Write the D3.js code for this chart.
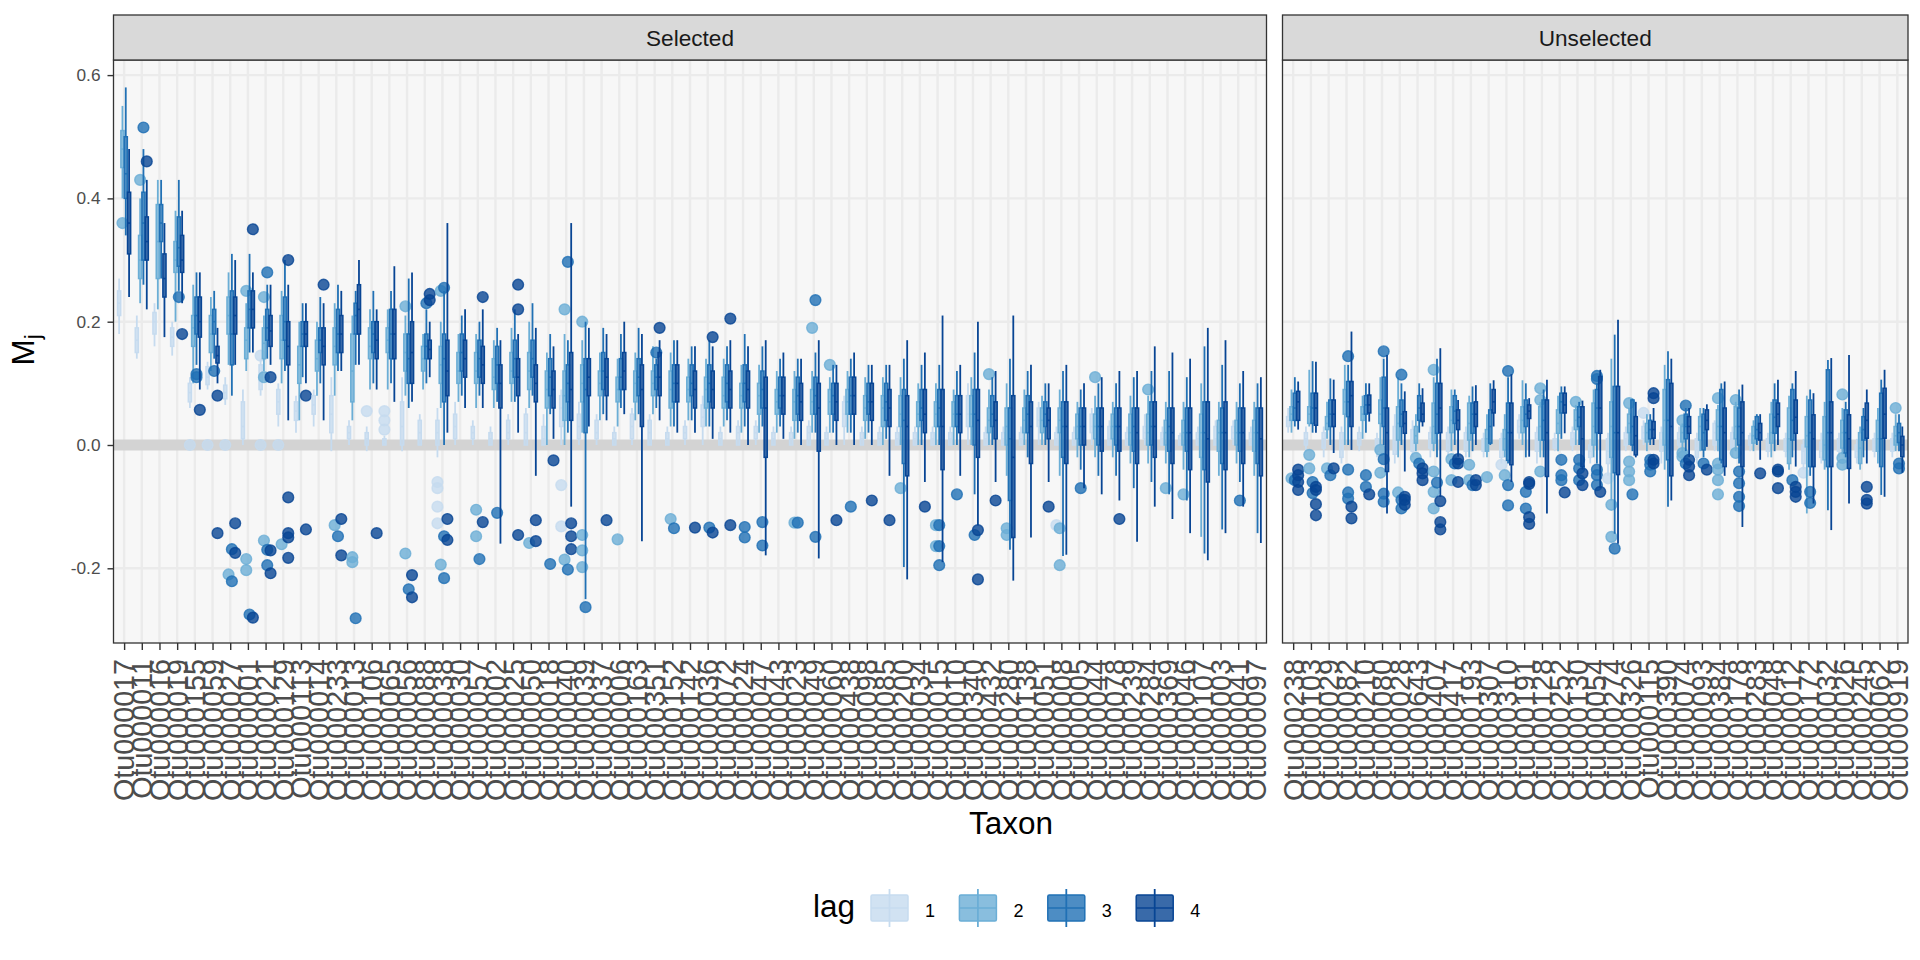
<!DOCTYPE html>
<html><head><meta charset="utf-8">
<script src="https://cdn.jsdelivr.net/npm/d3@7"></script>
<style>body{margin:0;background:#fff}svg{display:block}text{font-family:"Liberation Sans",Arial,Helvetica,sans-serif}</style>
</head><body><svg id="c" width="1920" height="960" font-family="Liberation Sans, Arial, Helvetica, sans-serif"></svg>
<script>
const taxaSelected=["Otu000017","Otu000011","Otu000016","Otu000019","Otu000155","Otu000059","Otu000027","Otu000001","Otu000021","Otu000129","Otu000113","Otu000014","Otu000233","Otu000013","Otu000106","Otu000065","Otu000056","Otu000088","Otu000038","Otu000030","Otu000057","Otu000002","Otu000025","Otu000050","Otu000018","Otu000040","Otu000039","Otu000037","Otu000006","Otu000163","Otu000351","Otu000152","Otu000142","Otu000036","Otu000072","Otu000024","Otu000047","Otu000043","Otu000023","Otu000049","Otu000060","Otu000438","Otu000098","Otu000085","Otu000200","Otu000034","Otu000015","Otu000010","Otu000340","Otu000432","Otu000280","Otu000138","Otu000051","Otu000008","Otu000005","Otu000044","Otu000078","Otu000239","Otu000284","Otu000369","Otu000046","Otu000107","Otu000003","Otu000041","Otu000097"];
const taxaUnselected=["Otu000238","Otu000103","Otu000029","Otu000082","Otu000210","Otu000080","Otu000028","Otu000643","Otu000407","Otu000417","Otu000193","Otu000307","Otu000310","Otu000191","Otu000128","Otu000252","Otu000130","Otu000054","Otu000274","Otu000326","Otu000115","Otu000390","Otu000074","Otu000093","Otu000384","Otu000178","Otu000283","Otu000048","Otu000012","Otu000172","Otu000032","Otu000026","Otu000245","Otu000062","Otu000919"];
const panelNames=["Selected","Unselected"];
const lags=["1","2","3","4"];
const lagColors=["#c6dbef","#6baed6","#2171b5","#084594"];
const yTicks=[-0.2,0,0.2,0.4,0.6];
// [lower whisker, q1, median, q3, upper whisker]; 65 selected taxa then 35 unselected
const lag1Stats=[
[.18,.21,.23,.25,.27],[.14,.15,.17,.19,.21],[.16,.18,.20,.215,.23],[.145,.16,.175,.19,.20],[.06,.07,.085,.10,.11],
[.09,.098,.11,.127,.135],[.065,.075,.085,.097,.11],[0,.01,.03,.07,.09],[.08,.09,.11,.13,.14],[.03,.05,.07,.09,.10],
[.02,.04,.055,.07,.08],[.03,.05,.065,.08,.09],[-.01,.02,.05,.08,.11],[0,.01,.02,.03,.04],[-.01,0,.01,.02,.03],
[0,0,.005,.01,.015],[-.01,0,.03,.07,.11],[0,0,.02,.04,.05],[-.02,0,.02,.04,.06],[0,.01,.03,.05,.07],
[0,.01,.02,.03,.04],[0,0,.01,.02,.03],[0,.01,.02,.04,.05],[0,0,.02,.05,.06],[0,0,.01,.03,.05],
[0,.03,.06,.08,.09],[0,.01,.03,.05,.07],[0,.01,.02,.04,.05],[0,0,.01,.02,.03],[0,.01,.03,.05,.06],
[0,0,.02,.04,.05],[0,0,.01,.02,.03],[0,.01,.02,.03,.04],[0,.03,.045,.065,.08],[0,0,.01,.02,.03],
[0,0,.02,.03,.04],[0,.01,.02,.03,.04],[0,0,.01,.02,.03],[0,0,.01,.02,.03],[0,0,.02,.03,.04],
[0,0,.01,.02,.03],[0,.03,.05,.07,.08],[0,0,.01,.02,.03],[0,0,.01,.02,.03],[0,0,.01,.02,.03],
[0,0,.01,.02,.03],[0,0,.01,.02,.03],[0,0,.01,.02,.03],[0,.03,.05,.08,.10],[0,0,.01,.02,.03],
[0,0,.01,.02,.03],[0,0,.01,.02,.03],[0,.03,.04,.06,.07],[0,0,.01,.02,.03],[0,0,.01,.02,.03],
[0,.02,.03,.05,.06],[0,0,.01,.03,.04],[0,0,.01,.02,.03],[0,.01,.02,.03,.05],[0,0,.01,.02,.03],
[0,0,.005,.015,.02],[0,0,.01,.02,.03],[0,0,.01,.03,.04],[0,.01,.02,.03,.04],[0,0,.01,.02,.03],
[.02,.03,.04,.046,.06],[-.01,0,.01,.02,.03],[-.02,-.005,.01,.02,.03],[-.03,-.02,0,.02,.03],[-.01,0,.01,.02,.03],
[-.02,-.01,0,.01,.02],[-.03,-.015,.005,.03,.05],[-.02,-.01,.005,.025,.04],[-.02,-.005,.01,.02,.03],[-.02,-.01,0,.02,.03],
[-.02,-.01,0,.02,.03],[-.02,-.01,0,.01,.02],[-.03,-.02,-.005,.01,.02],[.01,.02,.03,.04,.05],[-.03,-.01,.01,.02,.03],
[-.01,-.005,0,.01,.02],[-.01,0,.01,.02,.03],[-.03,-.02,-.01,0,.01],[-.05,-.03,-.01,.01,.02],[-.01,0,.01,.02,.03],
[0,.01,.02,.03,.04],[-.03,-.01,0,.02,.03],[-.01,0,.01,.02,.03],[-.03,-.02,-.005,.01,.02],[-.01,0,.02,.035,.04],
[-.02,-.005,.01,.02,.03],[-.01,0,.005,.015,.02],[-.02,-.01,0,.01,.02],[-.02,-.01,0,.01,.02],[-.04,-.03,-.01,0,.01],
[-.03,-.02,-.01,.005,.02],[-.02,-.01,0,.01,.02],[-.03,-.02,-.01,0,.01],[-.02,-.01,0,.01,.02],[-.02,-.01,0,.01,.02]];
const lag2Stats=[
[.40,.45,.48,.51,.55],[.23,.27,.30,.34,.40],[.22,.27,.33,.39,.43],[.20,.28,.30,.33,.38],[.10,.16,.19,.21,.26],
[.12,.15,.18,.21,.24],[.13,.18,.21,.24,.28],[.12,.14,.17,.19,.23],[.12,.14,.165,.19,.21],[.10,.14,.17,.21,.25],
[.04,.10,.13,.16,.20],[.08,.12,.14,.17,.20],[.08,.13,.16,.19,.23],[.04,.07,.12,.18,.21],[.09,.14,.16,.19,.22],
[.09,.15,.17,.19,.22],[.08,.12,.15,.18,.21],[.09,.12,.14,.16,.18],[.06,.10,.13,.16,.20],[.07,.10,.12,.15,.18],
[.06,.10,.12,.15,.18],[.06,.09,.11,.14,.17],[.07,.10,.12,.15,.19],[.06,.09,.12,.15,.20],[0,.06,.09,.12,.15],
[0,.04,.08,.12,.18],[.02,.07,.10,.13,.17],[.04,.08,.10,.12,.15],[.03,.07,.09,.11,.14],[.04,.07,.10,.12,.15],
[.05,.08,.10,.12,.16],[.03,.06,.09,.12,.15],[.04,.07,.09,.11,.14],[.03,.06,.09,.11,.14],[.03,.06,.08,.11,.14],
[.02,.06,.08,.10,.13],[.02,.05,.08,.10,.13],[.02,.05,.07,.09,.12],[.01,.04,.07,.09,.12],[.02,.05,.07,.09,.12],
[.02,.05,.07,.09,.11],[.02,.05,.07,.09,.12],[.01,.04,.06,.08,.11],[0,.03,.06,.08,.11],[0,.03,.05,.08,.11],
[0,.03,.05,.07,.10],[0,.03,.05,.07,.10],[0,.03,.05,.07,.09],[0,.03,.05,.08,.11],[0,.02,.04,.06,.09],
[-.05,0,.03,.06,.10],[0,.02,.04,.06,.09],[0,.02,.04,.06,.08],[-.05,.02,.04,.06,.09],[-.02,.01,.03,.05,.07],
[-.02,.01,.03,.05,.08],[-.02,.01,.03,.05,.07],[-.03,0,.02,.05,.08],[-.03,0,.02,.05,.08],[-.03,0,.02,.04,.07],
[-.04,0,.02,.04,.07],[-.149,-.02,.02,.05,.10],[-.05,-.01,.02,.04,.07],[-.03,0,.02,.04,.07],[-.05,-.01,.02,.04,.07],
[.02,.04,.05,.062,.09],[.03,.035,.05,.062,.122],[.01,.025,.035,.046,.07],[0,.05,.07,.09,.13],[.01,.04,.05,.062,.08],
[0,.035,.05,.073,.11],[-.02,.008,.035,.062,.11],[-.01,.003,.015,.03,.05],[-.01,.003,.03,.068,.11],[-.01,.02,.04,.062,.09],
[-.02,.008,.035,.068,.08],[-.02,-.01,.01,.025,.05],[-.02,-.008,.01,.025,.05],[0,.02,.04,.062,.105],[-.02,.008,.03,.062,.07],
[-.01,.019,.035,.057,.08],[0,.025,.04,.057,.065],[-.02,0,.03,.068,.09],[-.09,-.02,.03,.07,.14],[0,.02,.035,.05,.06],
[-.01,.005,.02,.035,.05],[-.04,0,.04,.09,.13],[-.01,.005,.02,.03,.035],[-.01,.008,.03,.046,.06],[-.01,.008,.03,.057,.065],
[-.01,.01,.03,.062,.07],[-.01,.003,.015,.03,.04],[-.02,.003,.02,.05,.07],[-.04,-.03,.01,.06,.08],[-.111,-.003,.015,.046,.08],
[-.04,-.024,0,.046,.07],[-.015,-.005,.02,.04,.06],[-.04,-.03,-.005,.02,.03],[-.03,-.01,.01,.04,.06],[-.01,0,.015,.03,.05]];
const lag3Stats=[
[.34,.40,.44,.50,.58],[.26,.30,.36,.41,.48],[.27,.33,.36,.39,.43],[.25,.29,.32,.37,.43],[.13,.18,.21,.24,.28],
[.14,.18,.20,.22,.25],[.08,.13,.18,.25,.31],[.15,.19,.22,.25,.31],[.14,.17,.19,.22,.26],[.12,.17,.20,.24,.30],
[.11,.16,.18,.20,.23],[.10,.15,.17,.19,.24],[.12,.15,.18,.22,.26],[.13,.18,.21,.23,.25],[.10,.15,.18,.20,.25],
[.10,.14,.18,.22,.25],[.06,.10,.14,.18,.27],[.10,.14,.16,.18,.22],[0,.07,.14,.18,.25],[.08,.12,.15,.18,.21],
[.08,.11,.14,.17,.20],[.07,.10,.13,.16,.19],[.07,.11,.14,.17,.22],[.08,.11,.14,.17,.23],[.05,.08,.11,.14,.18],
[.02,.07,.10,.13,.17],[-.25,.02,.09,.14,.20],[.05,.09,.12,.15,.19],[.06,.09,.11,.14,.18],[.05,.08,.11,.14,.19],
[.06,.09,.11,.13,.14],[.03,.07,.10,.13,.17],[.04,.08,.10,.13,.16],[.03,.07,.10,.13,.17],[.04,.07,.10,.13,.16],
[.03,.07,.10,.13,.18],[.03,.06,.09,.12,.16],[.03,.06,.08,.11,.14],[.02,.05,.08,.11,.14],[.02,.05,.08,.11,.15],
[.02,.05,.08,.10,.13],[.02,.05,.08,.11,.14],[.02,.05,.07,.10,.13],[.01,.04,.07,.10,.13],[-.198,-.03,.04,.09,.14],
[0,.04,.06,.09,.13],[0,.03,.06,.09,.13],[0,.03,.05,.08,.12],[-.08,0,.05,.09,.15],[0,.03,.05,.08,.11],
[-.17,-.09,.01,.06,.14],[-.02,.02,.05,.08,.12],[0,.03,.05,.07,.10],[-.18,-.02,.03,.07,.12],[-.04,0,.03,.06,.09],
[-.05,0,.03,.06,.10],[-.05,0,.03,.06,.10],[-.07,-.01,.03,.06,.11],[-.06,0,.03,.07,.12],[-.08,-.01,.03,.06,.12],
[-.09,-.01,.02,.06,.11],[-.176,-.04,.02,.07,.16],[-.137,-.03,.02,.06,.13],[-.06,-.01,.02,.06,.10],[-.143,-.03,.02,.06,.10],
[.03,.04,.06,.084,.11],[.02,.035,.06,.084,.136],[0,.03,.05,.073,.108],[0,.046,.07,.103,.13],[.02,.05,.065,.08,.10],
[0,.03,.06,.11,.14],[0,.03,.05,.073,.10],[.02,.04,.06,.08,.10],[-.02,.019,.05,.10,.14],[0,.035,.055,.08,.09],
[-.01,.019,.05,.068,.095],[0,.003,.03,.057,.10],[-.03,-.025,.02,.068,.11],[-.02,.03,.05,.073,.10],[-.02,.008,.04,.073,.09],
[.01,.052,.07,.084,.095],[0,.03,.045,.062,.07],[-.03,.02,.06,.09,.10],[-.144,-.045,.02,.095,.179],[-.01,0,.03,.073,.075],
[0,.01,.025,.04,.05],[-.10,-.024,.04,.106,.152],[-.01,.01,.03,.05,.06],[-.02,-.008,.02,.05,.06],[-.03,-.024,.03,.09,.10],
[-.03,0,.03,.06,.09],[0,.01,.025,.046,.05],[-.01,.019,.045,.073,.10],[-.02,.008,.04,.09,.10],[-.05,-.035,.02,.073,.09],
[-.106,-.035,.02,.122,.138],[-.02,-.013,.02,.057,.07],[-.02,.008,.025,.046,.06],[-.081,-.035,.01,.084,.106],[-.01,.004,.02,.035,.05]];
const lag4Stats=[
[.24,.31,.36,.41,.48],[.22,.30,.33,.37,.43],[.175,.24,.27,.31,.36],[.23,.28,.30,.34,.38],[.09,.175,.20,.24,.28],
[.10,.133,.145,.16,.19],[.13,.18,.21,.24,.30],[.15,.19,.22,.25,.28],[.13,.16,.185,.21,.26],[.04,.13,.16,.20,.26],
[.10,.16,.18,.20,.23],[.04,.13,.16,.19,.23],[.12,.15,.18,.21,.25],[.13,.18,.22,.26,.30],[.09,.14,.17,.20,.22],
[.07,.14,.18,.22,.29],[.07,.10,.15,.20,.28],[.11,.14,.155,.17,.20],[.02,.08,.12,.17,.36],[.06,.11,.14,.17,.22],
[.06,.10,.13,.16,.22],[-.16,.06,.10,.13,.17],[.02,.08,.11,.14,.18],[-.05,.07,.10,.13,.19],[.01,.06,.09,.12,.16],
[-.10,.04,.09,.15,.36],[.03,.08,.11,.14,.19],[.04,.08,.11,.14,.18],[.05,.09,.12,.15,.20],[-.156,.03,.09,.13,.18],
[.04,.08,.11,.15,.17],[.02,.07,.10,.13,.17],[.02,.06,.09,.12,.16],[.01,.06,.09,.12,.16],[.02,.06,.09,.12,.17],
[0,.06,.09,.12,.16],[-.179,-.02,.06,.11,.17],[.01,.05,.08,.11,.15],[0,.04,.07,.10,.14],[-.184,-.01,.06,.10,.17],
[0,.04,.07,.10,.13],[0,.05,.08,.11,.15],[0,.04,.07,.10,.13],[-.05,.03,.06,.09,.13],[-.218,-.05,.03,.08,.17],
[-.06,.02,.05,.09,.15],[-.19,-.04,.03,.09,.21],[-.05,.02,.05,.08,.13],[-.13,-.02,.04,.09,.20],[-.06,.01,.04,.07,.12],
[-.22,-.15,-.02,.08,.21],[-.15,-.03,.03,.07,.13],[-.06,.01,.04,.06,.10],[-.178,-.03,.03,.07,.13],[-.07,0,.03,.06,.10],
[-.08,-.01,.03,.06,.11],[-.09,-.01,.03,.06,.12],[-.157,-.03,.02,.06,.12],[-.10,-.02,.03,.07,.16],[-.12,-.03,.02,.06,.15],
[-.143,-.04,.02,.06,.14],[-.187,-.06,.01,.07,.19],[-.143,-.04,.02,.07,.17],[-.10,-.03,.02,.06,.12],[-.159,-.05,.01,.06,.11],
[.025,.04,.07,.087,.103],[.02,.032,.06,.084,.135],[-.013,.03,.05,.073,.106],[-.008,.03,.08,.103,.184],[.038,.052,.065,.081,.10],
[-.111,-.043,.02,.06,.146],[-.043,.019,.035,.054,.087],[.03,.038,.05,.068,.092],[-.084,.02,.06,.10,.157],[-.019,.025,.04,.057,.073],
[0,.03,.05,.07,.097],[.03,.052,.07,.09,.105],[-.06,-.032,.02,.068,.115],[-.019,.043,.055,.065,.076],[-.111,-.051,.02,.073,.106],
[.019,.052,.065,.084,.095],[-.04,-.035,.01,.062,.072],[-.07,.019,.06,.111,.122],[-.16,-.048,.02,.095,.203],[-.02,-.016,.015,.046,.07],
[0,.011,.025,.038,.06],[-.09,-.05,.03,.10,.14],[-.02,.019,.03,.046,.06],[-.003,.025,.04,.057,.066],[-.05,-.035,.02,.06,.103],
[-.133,-.035,.02,.07,.098],[-.024,.008,.02,.035,.05],[0,.03,.05,.068,.106],[-.035,.019,.045,.073,.12],[-.095,-.035,.01,.049,.084],
[-.138,-.035,.02,.07,.141],[-.095,-.038,.01,.049,.146],[-.03,.011,.04,.068,.09],[-.084,.011,.05,.092,.122],[-.045,-.019,0,.014,.03]];
// outliers: [taxon index (0-64 selected, 65-99 unselected), lag, value]
const outliers=[
[0,2,.36],[1,2,.43],[1,3,.515],[1,4,.46],[3,3,.24],[3,4,.18],[4,1,0],[4,3,.11],[4,3,.115],[4,4,.057],
[5,1,0],[5,3,.12],[5,4,.08],[5,4,-.143],[6,1,0],[6,2,-.21],[6,3,-.221],[6,3,-.169],[6,4,-.127],[6,4,-.175],
[7,2,.25],[7,4,.35],[7,2,-.185],[7,2,-.203],[7,3,-.275],[7,4,-.28],
[8,1,.145],[8,1,0],[8,2,.24],[8,2,.11],[8,3,.28],[8,4,.11],[8,2,-.155],[8,3,-.17],[8,4,-.171],[8,3,-.195],[8,4,-.208],
[9,1,0],[9,4,.30],[9,2,-.161],[9,4,-.143],[9,4,-.15],[9,4,-.183],[9,4,-.085],[10,4,.08],[10,4,-.137],[11,4,.26],
[12,2,-.13],[12,3,-.148],[12,4,-.179],[12,4,-.12],[13,2,-.182],[13,2,-.19],[13,3,-.281],[14,1,.055],[14,4,-.143],
[15,1,.025],[15,1,.04],[15,1,.055],[16,2,.225],[16,2,-.176],[16,4,-.211],[16,3,-.234],[16,4,-.247],[17,3,.23],[17,4,.245],[17,4,.235],
[18,1,-.06],[18,1,-.07],[18,1,-.10],[18,1,-.127],[18,2,.25],[18,3,.255],[18,4,-.12],[18,3,-.148],[18,4,-.154],[18,2,-.194],[18,3,-.216],
[20,2,-.148],[20,3,-.185],[20,4,-.125],[20,4,.24],[20,2,-.105],[21,3,-.11],[22,4,.26],[22,4,.22],[22,4,-.146],
[23,2,-.159],[23,4,-.156],[23,4,-.122],[24,3,-.193],[24,4,-.025],
[25,3,.297],[25,2,.22],[25,1,-.132],[25,1,-.065],[25,2,-.186],[25,3,-.202],[25,4,-.127],[25,4,-.148],[25,4,-.169],
[26,2,-.146],[26,2,-.171],[26,2,-.198],[26,3,-.263],[26,2,.20],[27,4,-.122],[28,2,-.153],[30,4,.19],[30,3,.15],
[31,3,-.135],[31,2,-.12],[32,4,-.134],[33,3,-.134],[33,4,-.142],[33,4,.175],[34,4,-.13],[34,4,.205],[35,3,-.133],[35,3,-.15],
[36,3,-.125],[36,3,-.163],[38,2,-.126],[38,3,-.126],[39,3,-.149],[39,3,.235],[39,2,.19],[40,4,-.122],[40,2,.13],
[41,3,-.10],[42,4,-.09],[43,4,-.122],[44,2,-.07],[45,4,-.10],[46,2,-.13],[46,2,-.164],[46,3,-.13],[46,3,-.164],[46,3,-.195],
[47,3,-.08],[48,3,-.146],[48,4,-.138],[48,4,-.218],[49,2,.115],[49,4,-.09],[50,2,-.135],[50,2,-.146],[52,4,-.10],
[53,1,-.13],[53,2,-.135],[53,2,-.195],[54,3,-.07],[55,2,.11],[56,4,-.12],[58,2,.09],[59,2,-.07],[60,2,-.08],[63,3,-.09],
[65,2,-.054],[65,3,-.057],[65,4,-.04],[65,4,-.049],[65,4,-.06],[65,4,-.073],
[66,2,-.016],[66,2,-.038],[66,3,-.06],[66,3,-.078],[66,4,-.068],[66,4,-.073],[66,4,-.096],[66,4,-.114],
[67,2,-.038],[67,3,-.049],[67,4,-.038],
[68,3,.144],[68,3,-.04],[68,3,-.077],[68,3,-.087],[68,4,-.10],[68,4,-.119],
[69,3,-.049],[69,3,-.068],[69,4,-.08],
[70,3,.152],[70,2,-.008],[70,2,-.045],[70,3,-.023],[70,3,-.079],[70,3,-.092],
[71,3,.114],[71,2,-.077],[71,3,-.089],[71,3,-.103],[71,4,-.084],[71,4,-.089],[71,4,-.097],
[72,2,-.021],[72,3,-.03],[72,4,-.038],[72,4,-.046],[72,4,-.057],
[73,2,.122],[73,2,-.043],[73,2,-.076],[73,2,-.103],[73,3,-.061],[73,4,-.091],[73,4,-.125],[73,4,-.137],
[74,2,-.023],[74,2,-.057],[74,3,-.03],[74,4,-.023],[74,4,-.03],[74,4,-.06],
[75,2,-.032],[75,2,-.057],[75,3,-.065],[75,4,-.057],[75,4,-.065],[76,2,-.052],
[77,3,.12],[77,1,-.032],[77,2,-.049],[77,3,-.065],[77,3,-.098],
[78,3,-.076],[78,3,-.103],[78,4,-.06],[78,4,-.063],[78,4,-.117],[78,4,-.128],
[79,2,.092],[79,2,.073],[79,2,-.043],[80,3,-.024],[80,3,-.049],[80,3,-.057],[80,4,-.077],
[81,2,.07],[81,3,-.024],[81,3,-.038],[81,3,-.057],[81,4,-.046],[81,4,-.065],
[82,3,.112],[82,3,.107],[82,3,-.04],[82,3,-.049],[82,3,-.065],[82,4,-.076],
[83,1,-.054],[83,2,-.149],[83,2,-.097],[83,3,-.168],
[84,2,.068],[84,2,-.027],[84,2,-.043],[84,2,-.057],[84,3,-.08],
[85,1,.052],[85,4,.084],[85,4,.076],[85,4,-.024],[85,4,-.03],[85,3,-.024],[85,3,-.032],[85,3,-.043],
[87,2,.04],[87,2,-.013],[87,2,-.019],[87,3,.064],[87,3,-.03],[87,4,-.024],[87,4,-.035],[87,4,-.049],
[88,3,-.03],[88,4,-.04],[89,2,.076],[89,2,-.03],[89,2,-.04],[89,2,-.057],[89,2,-.08],
[90,2,.073],[90,2,-.013],[90,3,-.043],[90,3,-.062],[90,3,-.084],[90,3,-.099],[91,4,-.046],
[92,4,-.04],[92,4,-.043],[92,4,-.07],[93,3,-.057],[93,4,-.068],[93,4,-.076],[93,4,-.084],
[94,3,-.076],[94,3,-.094],[94,1,-.045],[96,2,.082],[96,2,-.021],[96,2,-.032],
[97,4,-.068],[97,4,-.089],[97,4,-.095],[99,2,.06],[99,3,-.03],[99,3,-.038]];

const statsByLag=[lag1Stats,lag2Stats,lag3Stats,lag4Stats];
const svg=d3.select("#c");
function fitSize(str,target,base){
  const t=svg.append("text").attr("font-size",base).text(str);
  const w=t.node().getComputedTextLength(); t.remove();
  return base*target/w;
}
const xLabSize=fitSize("Otu000017",142,28);
const yLabSize=fitSize("0.6",24,16);
const stripSize=fitSize("Selected",88,20);
const titleSize=fitSize("Taxon",84,27);

const y=d3.scaleLinear().domain([-0.2,0.6]).range([568.3,75.1]);
const panelTop=60,panelBottom=643,stripTop=15;
const panels=[
 {name:panelNames[0],taxa:taxaSelected,x0:113.5,x1:1266.5,offset:0},
 {name:panelNames[1],taxa:taxaUnselected,x0:1282.5,x1:1908,offset:taxaSelected.length}
];
const fmt=d=>d.toFixed(1);

panels.forEach((p,pi)=>{
  const x=d3.scalePoint().domain(p.taxa).range([p.x0,p.x1]).padding(0.6);
  const step=x.step();
  const dodge=step*0.1875;
  const bw=dodge*0.95;
  const g=svg.append("g");
  g.append("rect").attr("x",p.x0).attr("y",panelTop).attr("width",p.x1-p.x0).attr("height",panelBottom-panelTop).attr("fill","#f7f7f7");
  const pg=g.append("g");
  pg.selectAll("line.hg").data(yTicks).join("line").attr("x1",p.x0).attr("x2",p.x1)
    .attr("y1",d=>y(d)).attr("y2",d=>y(d)).attr("stroke","#ebebeb").attr("stroke-width",2.4);
  pg.selectAll("line.vg").data(p.taxa).join("line").attr("x1",d=>x(d)).attr("x2",d=>x(d))
    .attr("y1",panelTop).attr("y2",panelBottom).attr("stroke","#ebebeb").attr("stroke-width",2.4);
  pg.append("line").attr("x1",p.x0).attr("x2",p.x1).attr("y1",y(0)).attr("y2",y(0))
    .attr("stroke","#d3d3d3").attr("stroke-width",11);
  p.taxa.forEach((t,ti)=>{
    const idx=p.offset+ti;
    lags.forEach((l,li)=>{
      const s=statsByLag[li][idx];
      const col=lagColors[li];
      const cx=x(t)+(li-1.5)*dodge;
      const bg=pg.append("g");
      bg.append("line").attr("x1",cx).attr("x2",cx).attr("y1",y(s[4])).attr("y2",y(s[3])).attr("stroke",col).attr("stroke-width",1.8);
      bg.append("line").attr("x1",cx).attr("x2",cx).attr("y1",y(s[1])).attr("y2",y(s[0])).attr("stroke",col).attr("stroke-width",1.8);
      bg.append("rect").attr("x",cx-bw/2).attr("width",bw).attr("y",y(s[3])).attr("height",Math.max(0.5,y(s[1])-y(s[3])))
        .attr("fill",col).attr("fill-opacity",0.8).attr("stroke",col).attr("stroke-width",1.5);
      bg.append("line").attr("x1",cx-bw/2).attr("x2",cx+bw/2).attr("y1",y(s[2])).attr("y2",y(s[2])).attr("stroke",col).attr("stroke-width",1.6);
      outliers.filter(o=>o[0]===idx&&o[1]===li+1).forEach(o=>{
        bg.append("circle").attr("cx",cx).attr("cy",y(o[2])).attr("r",5.4)
          .attr("fill",col).attr("fill-opacity",0.8).attr("stroke",col).attr("stroke-opacity",0.8).attr("stroke-width",1.4);
      });
    });
  });
  g.append("rect").attr("x",p.x0).attr("y",panelTop).attr("width",p.x1-p.x0).attr("height",panelBottom-panelTop)
    .attr("fill","none").attr("stroke","#333").attr("stroke-width",1.3);
  g.append("rect").attr("x",p.x0).attr("y",stripTop).attr("width",p.x1-p.x0).attr("height",panelTop-stripTop)
    .attr("fill","#d9d9d9").attr("stroke","#333").attr("stroke-width",1.3);
  g.append("text").attr("x",(p.x0+p.x1)/2).attr("y",(stripTop+panelTop)/2).attr("dy","0.36em")
    .attr("text-anchor","middle").attr("font-size",stripSize).attr("fill","#1a1a1a").text(p.name);
  const xa=g.append("g").attr("transform",`translate(0,${panelBottom})`)
    .call(d3.axisBottom(x).tickSize(7).tickFormat(""));
  xa.select(".domain").remove();
  xa.selectAll(".tick line").attr("stroke","#333").attr("stroke-width",1.4);
  g.selectAll("text.xl").data(p.taxa).join("text").attr("class","xl")
    .attr("transform",d=>`translate(${x(d)},${panelBottom+16}) rotate(-90)`)
    .attr("text-anchor","end").attr("dy","0.36em").attr("font-size",xLabSize).attr("fill","#4d4d4d").text(d=>d);
  if(pi===0){
    const ya=g.append("g").attr("transform",`translate(${p.x0},0)`)
      .call(d3.axisLeft(y).tickValues(yTicks).tickFormat(fmt).tickSize(6).tickPadding(7));
    ya.select(".domain").remove();
    ya.attr("font-family",null);
    ya.selectAll(".tick line").attr("stroke","#333").attr("stroke-width",1.4);
    ya.selectAll(".tick text").attr("font-size",yLabSize).attr("fill","#4d4d4d");
  }
});

svg.append("text").attr("x",1011).attr("y",834).attr("text-anchor","middle").attr("font-size",titleSize).attr("fill","#000").text("Taxon");
const yt=svg.append("text").attr("transform","translate(34,350) rotate(-90)").attr("text-anchor","middle").attr("font-size",titleSize).attr("fill","#000");
yt.append("tspan").text("M");
yt.append("tspan").attr("font-size",titleSize*0.7).attr("dy",6).text("j");

const lg=svg.append("g");
lg.append("text").attr("x",813).attr("y",917).attr("font-size",titleSize).attr("fill","#000").text("lag");
lags.forEach((l,i)=>{
  const kx=871+i*88.4, kw=37, ky=895, kh=26, col=lagColors[i];
  lg.append("line").attr("x1",kx+kw/2).attr("x2",kx+kw/2).attr("y1",ky-6).attr("y2",ky+kh+6).attr("stroke",col).attr("stroke-width",1.8);
  lg.append("rect").attr("x",kx).attr("y",ky).attr("width",kw).attr("height",kh).attr("rx",1.5)
    .attr("fill",col).attr("fill-opacity",0.8).attr("stroke",col).attr("stroke-width",1.5);
  lg.append("line").attr("x1",kx).attr("x2",kx+kw).attr("y1",ky+kh/2).attr("y2",ky+kh/2).attr("stroke",col).attr("stroke-width",1.6);
  lg.append("text").attr("x",kx+kw+17).attr("y",917).attr("font-size",18).attr("fill","#000").text(l);
});
</script></body></html>
